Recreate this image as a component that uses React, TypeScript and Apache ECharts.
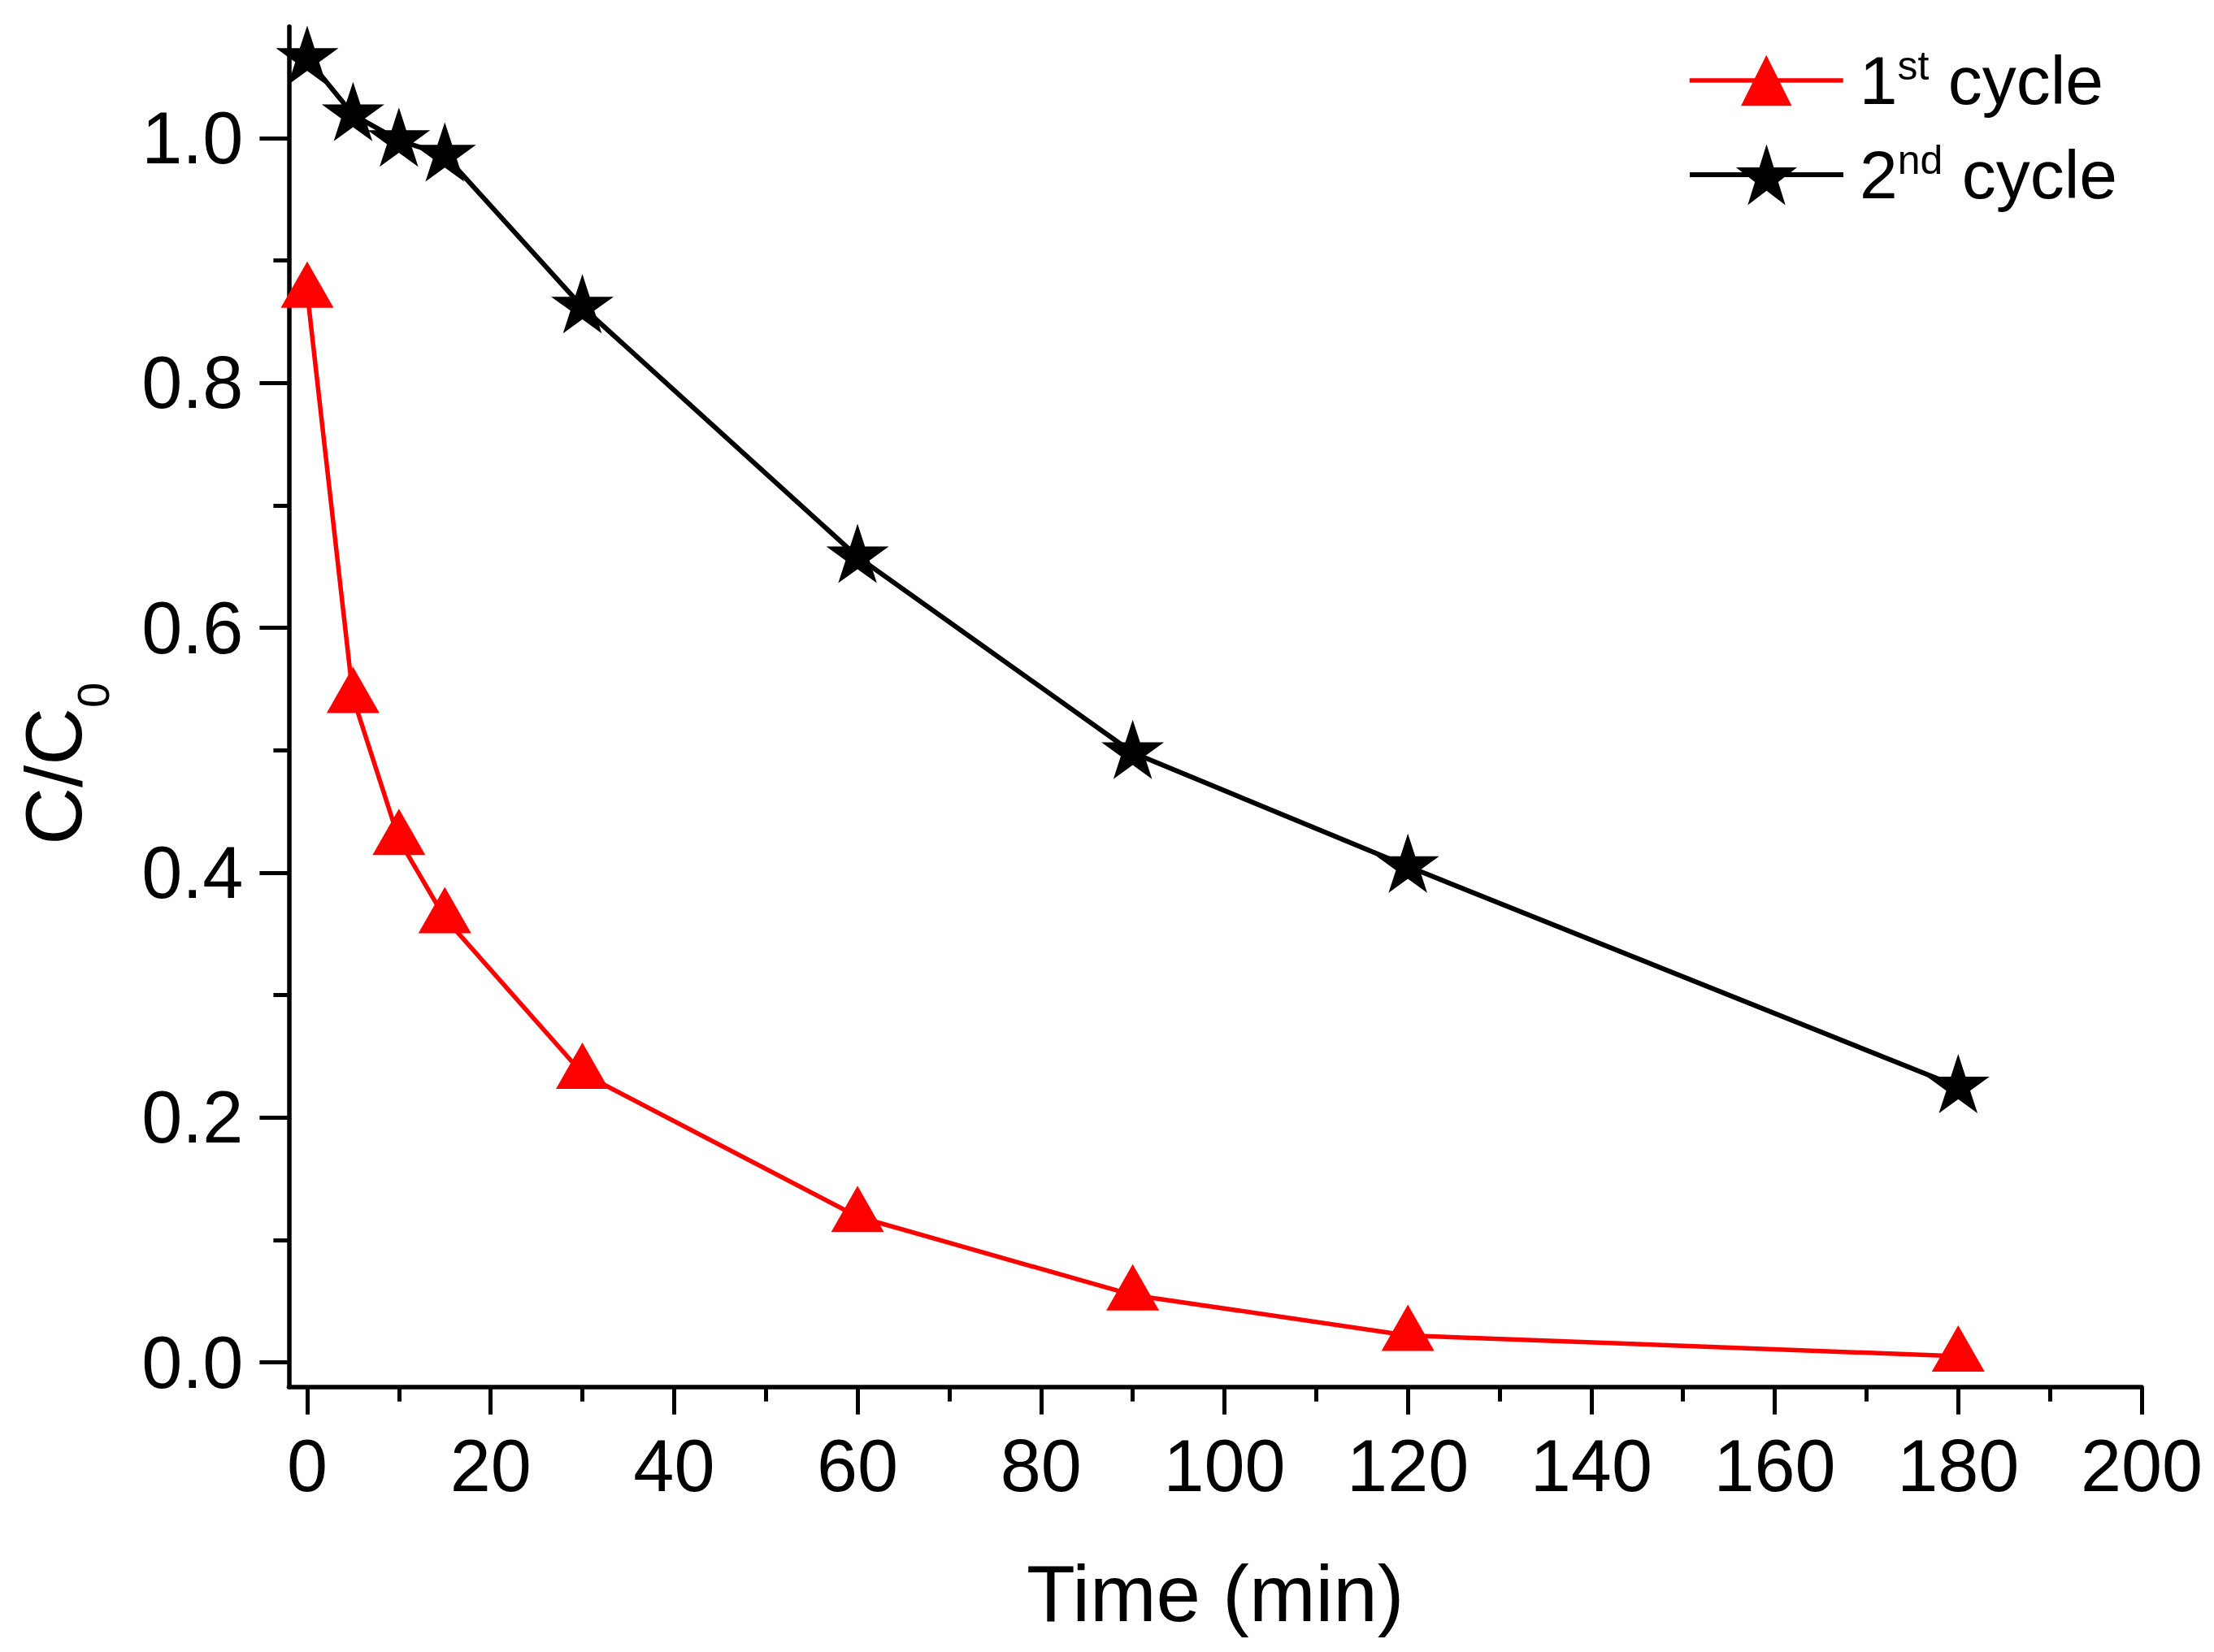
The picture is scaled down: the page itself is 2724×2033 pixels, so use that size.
import React, { useEffect, useRef } from 'react';
import * as echarts from 'echarts';

// ---- data ----
const times = [0, 5, 10, 15, 30, 60, 90, 120, 180];
const cycle1 = [0.874, 0.543, 0.427, 0.363, 0.236, 0.119, 0.055, 0.022, 0.005];
const cycle2 = [1.065, 1.019, 0.998, 0.986, 0.862, 0.658, 0.498, 0.405, 0.225];
const seriesNames = ['1st cycle', '2nd cycle'];
const xMajorTicks = [0, 20, 40, 60, 80, 100, 120, 140, 160, 180, 200];
const xMinorTicks = [10, 30, 50, 70, 90, 110, 130, 150, 170, 190];
const yMajorTicks = [0, 0.2, 0.4, 0.6, 0.8, 1.0];
const yMinorTicks = [0.1, 0.3, 0.5, 0.7, 0.9];

const FONT = "'Liberation Sans', Arial, Helvetica, sans-serif";
const STAR =
  'path://M0,-100 L22.45,-30.9 L95.11,-30.9 L36.33,11.8 L58.78,80.9 L0,38.2 L-58.78,80.9 L-36.33,11.8 L-95.11,-30.9 L-22.45,-30.9 Z';

const legendFormatter = (name: string) => {
  const m = name.match(/^(\d)(st|nd|rd|th)\s(.*)$/);
  if (!m) return `{n|${name}}`;
  return `{n|${m[1]}}{s|${m[2]}}{n| ${m[3]}}`;
};

const legendRich = {
  n: { fontSize: 84, lineHeight: 86, fontFamily: FONT, color: '#000' },
  s: { fontSize: 50, lineHeight: 50, verticalAlign: 'top', fontFamily: FONT, color: '#000' },
};

export default function App() {
  const ref = useRef<HTMLDivElement>(null);
  useEffect(() => {
    if (!ref.current) return;
    const chart = echarts.init(ref.current, undefined, { renderer: 'svg' });
    const axisLineStyle = { color: '#000', width: 5.5 };
    const tickStyle = { color: '#000', width: 5 };
    const option: any = {
      animation: false,
      backgroundColor: '#ffffff',
      grid: { left: 355.4, right: 89, top: 32.7, bottom: 326.3, containLabel: false, outerBoundsMode: 'none' },
      legend: [
        {
          data: [seriesNames[0]],
          left: 2076,
          top: 56,
          padding: 0,
          itemWidth: 189,
          itemHeight: 78,
          selectedMode: false,
          formatter: legendFormatter,
          lineStyle: { color: '#ff0000', width: 5.5 },
          textStyle: { padding: [0, 0, 0, 15], rich: legendRich },
        },
        {
          data: [seriesNames[1]],
          left: 2076,
          top: 172,
          padding: 0,
          itemWidth: 189,
          itemHeight: 94,
          selectedMode: false,
          formatter: legendFormatter,
          lineStyle: { color: '#000000', width: 6 },
          textStyle: { padding: [0, 0, 0, 15], rich: legendRich },
        },
      ],
      xAxis: [
        {
          type: 'value',
          min: -2,
          max: 200,
          position: 'bottom',
          offset: 0,
          splitLine: { show: false },
          axisLine: { show: true, onZero: false, lineStyle: axisLineStyle },
          axisTick: { show: true, inside: false, length: 34, lineStyle: tickStyle, customValues: xMajorTicks },
          axisLabel: {
            show: true,
            customValues: xMajorTicks,
            margin: 51,
            fontSize: 90,
            lineHeight: 92,
            fontFamily: FONT,
            color: '#000',
          },
          name: 'Time (min)',
          nameLocation: 'middle',
          nameGap: 199,
          nameTextStyle: { fontSize: 98, lineHeight: 110, fontFamily: FONT, color: '#000' },
        },
        {
          type: 'value',
          min: -2,
          max: 200,
          position: 'bottom',
          offset: 0,
          splitLine: { show: false },
          axisLine: { show: false, onZero: false },
          axisTick: { show: true, inside: false, length: 18, lineStyle: tickStyle, customValues: xMinorTicks },
          axisLabel: { show: false },
        },
      ],
      yAxis: [
        {
          type: 'value',
          min: -0.02,
          max: 1.091,
          position: 'left',
          offset: 0,
          splitLine: { show: false },
          axisLine: { show: true, onZero: false, lineStyle: axisLineStyle },
          axisTick: { show: true, inside: false, length: 36, lineStyle: tickStyle, customValues: yMajorTicks },
          axisLabel: {
            show: true,
            customValues: yMajorTicks,
            formatter: (v: number) => v.toFixed(1),
            margin: 56,
            fontSize: 90,
            fontFamily: FONT,
            color: '#000',
          },
          name: '{c|C/C}{sub|0}',
          nameLocation: 'middle',
          nameGap: 238,
          nameTextStyle: {
            padding: [0, 140, 0, 0],
            rich: {
              c: { fontSize: 98, lineHeight: 100, verticalAlign: 'top', fontFamily: FONT, color: '#000' },
              sub: {
                fontSize: 56,
                lineHeight: 60,
                verticalAlign: 'top',
                padding: [69, 0, 0, 0],
                fontFamily: FONT,
                color: '#000',
              },
            },
          },
        },
        {
          type: 'value',
          min: -0.02,
          max: 1.091,
          position: 'left',
          offset: 0,
          splitLine: { show: false },
          axisLine: { show: false, onZero: false },
          axisTick: { show: true, inside: false, length: 19, lineStyle: tickStyle, customValues: yMinorTicks },
          axisLabel: { show: false },
        },
      ],
      series: [
        {
          name: seriesNames[0],
          type: 'line',
          xAxisIndex: 0,
          yAxisIndex: 0,
          data: times.map((t, i) => [t, cycle1[i]]),
          symbol: 'triangle',
          symbolSize: [65, 57],
          symbolOffset: [0, -9.5],
          showSymbol: true,
          clip: false,
          itemStyle: { color: '#ff0000' },
          lineStyle: { color: '#ff0000', width: 5.5 },
          z: 3,
        },
        {
          name: seriesNames[1],
          type: 'line',
          xAxisIndex: 0,
          yAxisIndex: 0,
          data: times.map((t, i) => [t, cycle2[i]]),
          symbol: STAR,
          symbolSize: [77, 73],
          symbolOffset: [0, -4],
          symbolKeepAspect: false,
          showSymbol: true,
          clip: false,
          itemStyle: { color: '#000000' },
          lineStyle: { color: '#000000', width: 6 },
          z: 3,
        },
      ],
    };
    chart.setOption(option);
    return () => chart.dispose();
  }, []);
  return (
    <div
      ref={ref}
      style={{ position: 'absolute', left: 0, top: 0, width: 2724, height: 2033, background: '#fff' }}
    />
  );
}
